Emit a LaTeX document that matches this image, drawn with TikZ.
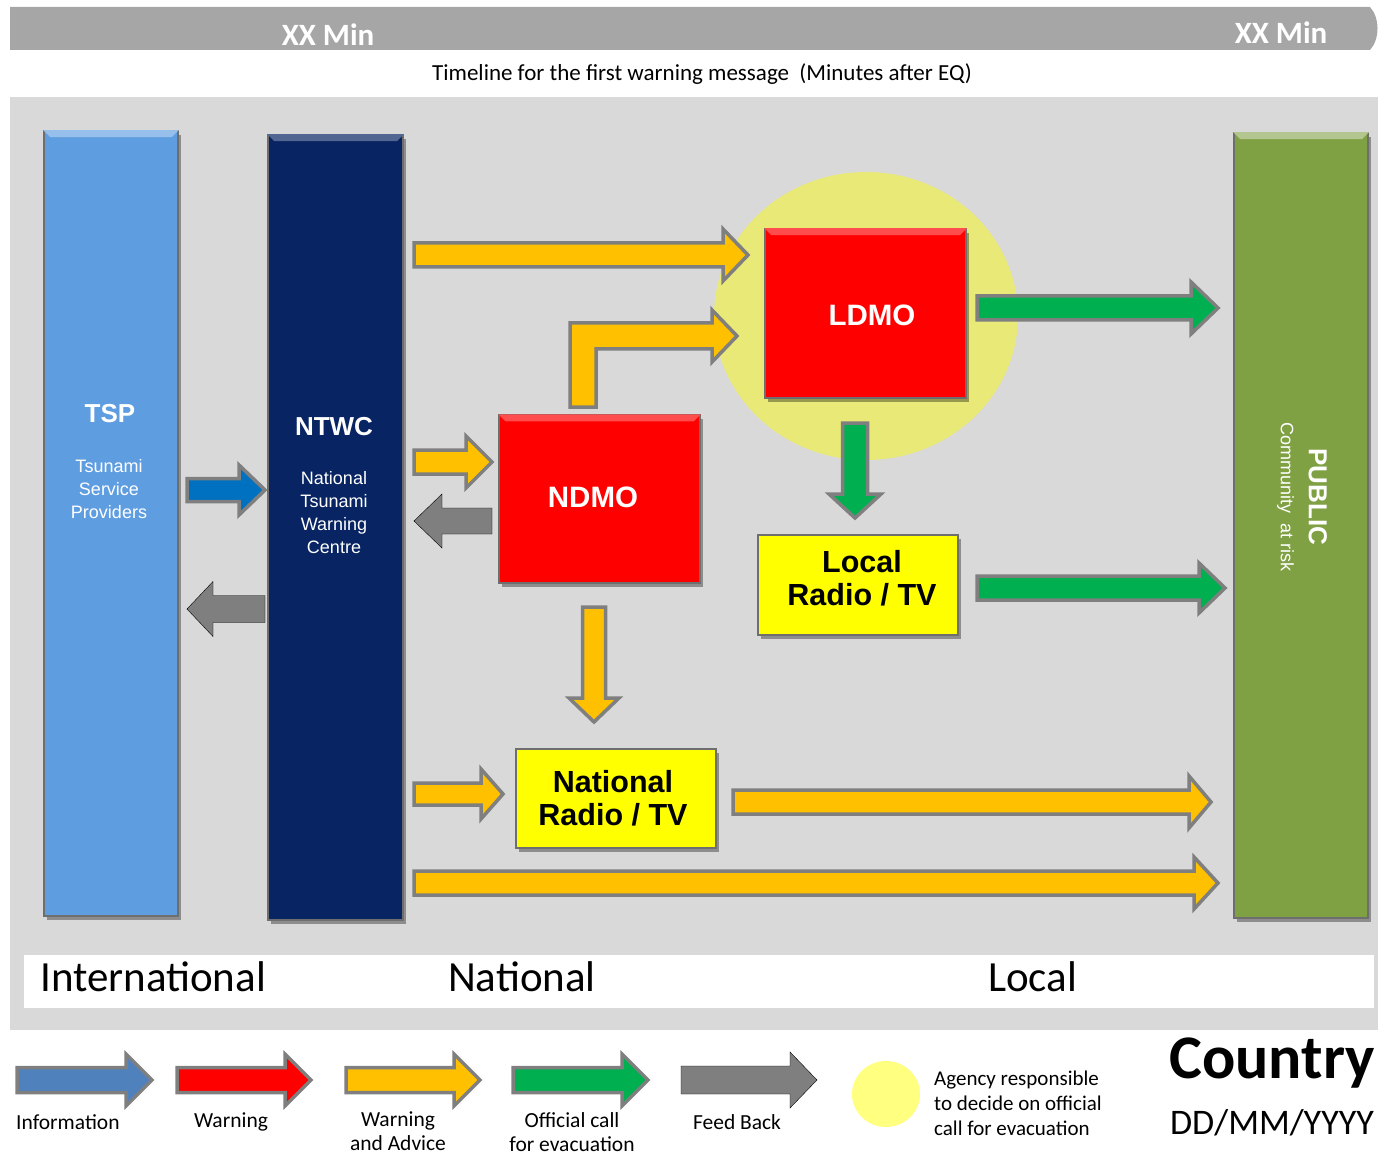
\documentclass[tikz,border=0pt]{standalone}
\usepackage{fontspec}
\setmainfont{Carlito}
\newfontfamily\arialf{Liberation Sans}
\usetikzlibrary{calc,shadows,shapes.geometric}
\definecolor{barg}{RGB}{166,166,166}
\definecolor{panelg}{RGB}{217,217,217}
\definecolor{tspc}{RGB}{95,157,225}
\definecolor{ntwcc}{RGB}{8,36,99}
\definecolor{pubc}{RGB}{128,160,68}
\definecolor{circc}{RGB}{233,233,120}
\definecolor{legcirc}{RGB}{255,255,128}
\definecolor{redc}{RGB}{255,0,0}
\definecolor{yelc}{RGB}{255,255,0}
\definecolor{ayel}{RGB}{255,192,0}
\definecolor{agrn}{RGB}{0,176,80}
\definecolor{ablu}{RGB}{0,112,192}
\definecolor{lblu}{RGB}{79,129,189}
\definecolor{agry}{RGB}{127,127,127}
\definecolor{bord}{RGB}{110,110,110}
\newcommand{\blockarr}[6]{%
  \coordinate (bah) at ($(#3)!#6!(#2)$);
  \draw[#1] ($(#2)!#4!90:(#3)$) -- ($(bah)!#4!90:(#3)$) -- ($(bah)!#5!90:(#3)$) -- (#3)
    -- ($(bah)!#5!-90:(#3)$) -- ($(bah)!#4!-90:(#3)$) -- ($(#2)!#4!-90:(#3)$) -- cycle;}
\newcommand{\bevel}[2]{%
  \fill[#2] (#1.north west) -- (#1.north east) -- ++(-7,7) -- ($(#1.north west)+(7,7)$) -- cycle;}
\begin{document}
\begin{tikzpicture}[x=1pt,y=-1pt,
  bigbox/.style={draw=bord, line width=1.5pt, inner sep=0pt,
    drop shadow={shadow xshift=3pt, shadow yshift=-4pt, opacity=.35, fill=black}},
  oarrow/.style={draw=agry, line width=3.5pt, line join=miter, miter limit=10},
  yarr/.style={oarrow, fill=ayel},
  garr/.style={oarrow, fill=agrn},
  barr/.style={oarrow, fill=ablu},
  fbarr/.style={fill=agry},
  wtxt/.style={text=white, font=\arialf, align=center, inner sep=0pt},
  btxt/.style={text=black, align=center, inner sep=0pt, font=\arialf\bfseries\fontsize{30.5}{33.5}\selectfont},
  legtxt/.style={align=center, inner sep=0pt, font=\fontsize{21.5}{24}\selectfont}]
\useasboundingbox (0,0) rectangle (1378,1155);
% top bar
\fill[barg] (10,7) -- (1370,7) .. controls (1380,18) and (1380,39) .. (1370,50) -- (10,50) -- cycle;
\node[text=white, font=\bfseries\fontsize{31}{36}\selectfont, inner sep=0pt] (xx1) at (328,35) {XX Min};
\node[text=white, font=\bfseries\fontsize{31}{36}\selectfont, inner sep=0pt] (xx2) at (1281,33) {XX Min};
\node[font=\fontsize{23}{27}\selectfont, inner sep=0pt] (tl) at (702,74) {Timeline for the first warning message\ \ (Minutes after EQ)};
% panel
\fill[panelg] (10,97) rectangle (1378,1030);
\fill[white] (24,955) rectangle (1374,1008);
\node[anchor=west, font=\fontsize{43}{48}\selectfont, inner sep=0pt] (intl) at (40,977) {International};
\node[anchor=west, font=\fontsize{43}{48}\selectfont, inner sep=0pt] (natl) at (448,977) {National};
\node[anchor=west, font=\fontsize{43}{48}\selectfont, inner sep=0pt] (locl) at (988,977) {Local};
% big columns
\node[bigbox, fill=tspc, minimum width=134pt, minimum height=785pt] (tsp) at (111,523.5) {};
\bevel{tsp}{tspc!65!white}
\node[bigbox, fill=ntwcc, minimum width=135pt, minimum height=785pt] (ntwc) at (335.5,527.5) {};
\bevel{ntwc}{ntwcc!70!white}
\node[bigbox, fill=pubc, minimum width=134pt, minimum height=785pt] (pub) at (1301,525.5) {};
\bevel{pub}{pubc!60!white}
\node[wtxt, font=\arialf\bfseries\fontsize{26}{30}\selectfont] (tspt) at (110,414) {TSP};
\node[wtxt, font=\arialf\fontsize{18}{23}\selectfont] (tspb) at (109,489) {Tsunami\\Service\\Providers};
\node[wtxt, font=\arialf\bfseries\fontsize{26}{30}\selectfont] (ntwct) at (334,427) {NTWC};
\node[wtxt, font=\arialf\fontsize{18}{23}\selectfont] (ntwcb) at (334,513) {National\\Tsunami\\Warning\\Centre};
\node[wtxt, rotate=-90, font=\arialf\fontsize{18}{28}\selectfont] (pubt) at (1302,497) {{\bfseries\fontsize{26}{28}\selectfont PUBLIC}\\Community\ \ at risk};
% responsible agency circle
\node[ellipse, fill=circc, minimum width=304pt, minimum height=288pt, inner sep=0pt] (agc) at (866,316) {};
% agency boxes
\node[bigbox, fill=redc, minimum width=201pt, minimum height=169pt] (ldmo) at (865.5,313.5) {};
\bevel{ldmo}{redc!70!white}
\node[wtxt, font=\arialf\bfseries\fontsize{29.5}{32}\selectfont] (ldmot) at (872,315) {LDMO};
\node[bigbox, fill=redc, minimum width=201pt, minimum height=168pt] (ndmo) at (599.5,499) {};
\bevel{ndmo}{redc!70!white}
\node[wtxt, font=\arialf\bfseries\fontsize{29.5}{32}\selectfont] (ndmot) at (593,497) {NDMO};
\node[bigbox, fill=yelc, minimum width=200pt, minimum height=100pt] (lrtv) at (858,585) {};
\node[btxt] (lrtvt) at (862,578.5) {Local\\Radio / TV};
\node[bigbox, fill=yelc, minimum width=200pt, minimum height=99pt] (nrtv) at (616,798.5) {};
\node[btxt] (nrtvt) at (613,798) {National\\Radio / TV};
% arrow end points
\coordinate (a1s) at (414,255);  \coordinate (a1t) at (748,255);
\coordinate (a3s) at (414,462);  \coordinate (a3t) at (492,462);
\coordinate (a4s) at (492,521);  \coordinate (a4t) at (414,521);
\coordinate (a5s) at (187,490);  \coordinate (a5t) at (265,490);
\coordinate (a6s) at (265,609);  \coordinate (a6t) at (187,609);
\coordinate (a7s) at (977,308);  \coordinate (a7t) at (1218,308);
\coordinate (a8s) at (855,423);  \coordinate (a8t) at (855,518);
\coordinate (a9s) at (977,588);  \coordinate (a9t) at (1225,588);
\coordinate (a10s) at (594,607); \coordinate (a10t) at (594,722);
\coordinate (a11s) at (414,794); \coordinate (a11t) at (503,794);
\coordinate (a12s) at (733,802); \coordinate (a12t) at (1211,802);
\coordinate (a13s) at (414,883); \coordinate (a13t) at (1218,883);
% arrows
\blockarr{yarr}{a1s}{a1t}{12pt}{26pt}{25pt}
\draw[yarr] (570,407) -- (570,323) -- (712,323) -- (712,310) -- (737,336) -- (712,362) -- (712,349) -- (596,349) -- (596,407) -- cycle;
\blockarr{yarr}{a3s}{a3t}{12pt}{26pt}{26pt}
\blockarr{fbarr}{a4s}{a4t}{13pt}{27pt}{28pt}
\blockarr{barr}{a5s}{a5t}{11.5pt}{25pt}{26pt}
\blockarr{fbarr}{a6s}{a6t}{13.5pt}{27.5pt}{26pt}
\blockarr{garr}{a7s}{a7t}{12pt}{26pt}{27pt}
\blockarr{garr}{a8s}{a8t}{12.5pt}{26pt}{24pt}
\blockarr{garr}{a9s}{a9t}{12pt}{25pt}{26pt}
\blockarr{yarr}{a10s}{a10t}{11.5pt}{25pt}{24pt}
\blockarr{yarr}{a11s}{a11t}{11pt}{25pt}{22pt}
\blockarr{yarr}{a12s}{a12t}{12pt}{26pt}{22pt}
\blockarr{yarr}{a13s}{a13t}{12pt}{26pt}{24pt}
% legend
\coordinate (l1s) at (17,1080);  \coordinate (l1t) at (152,1080);
\coordinate (l2s) at (177,1080); \coordinate (l2t) at (311,1080);
\coordinate (l3s) at (346,1080); \coordinate (l3t) at (480,1080);
\coordinate (l4s) at (513,1080); \coordinate (l4t) at (648,1080);
\coordinate (l5s) at (681,1080); \coordinate (l5t) at (817,1080);
\blockarr{oarrow,fill=lblu}{l1s}{l1t}{12.5pt}{26pt}{26pt}
\blockarr{oarrow,fill=redc}{l2s}{l2t}{12.5pt}{26pt}{26pt}
\blockarr{oarrow,fill=ayel}{l3s}{l3t}{12.5pt}{26pt}{26pt}
\blockarr{oarrow,fill=agrn}{l4s}{l4t}{12.5pt}{26pt}{26pt}
\blockarr{fbarr}{l5s}{l5t}{14pt}{28pt}{27pt}
\node[legtxt, anchor=west] (lg1) at (16,1122) {Information};
\node[legtxt] (lg2) at (231,1122) {Warning};
\node[legtxt] (lg3) at (398,1131) {Warning\\and Advice};
\node[legtxt] (lg4) at (572,1132) {Official call\\for evacuation};
\node[legtxt] (lg5) at (737,1122) {Feed Back};
\node[ellipse, fill=legcirc, minimum width=68pt, minimum height=66pt, inner sep=0pt] (lgc) at (886,1094) {};
\node[anchor=west, align=left, inner sep=0pt, font=\fontsize{21}{25}\selectfont] (lgct) at (934,1103) {Agency responsible\\to decide on official\\call for evacuation};
\node[inner sep=0pt, font=\bfseries\fontsize{62}{70}\selectfont] (ctry) at (1272,1063) {Country};
\node[inner sep=0pt, font=\fontsize{36}{40}\selectfont] (date) at (1272,1123) {DD/MM/YYYY};
\end{tikzpicture}
\end{document}
